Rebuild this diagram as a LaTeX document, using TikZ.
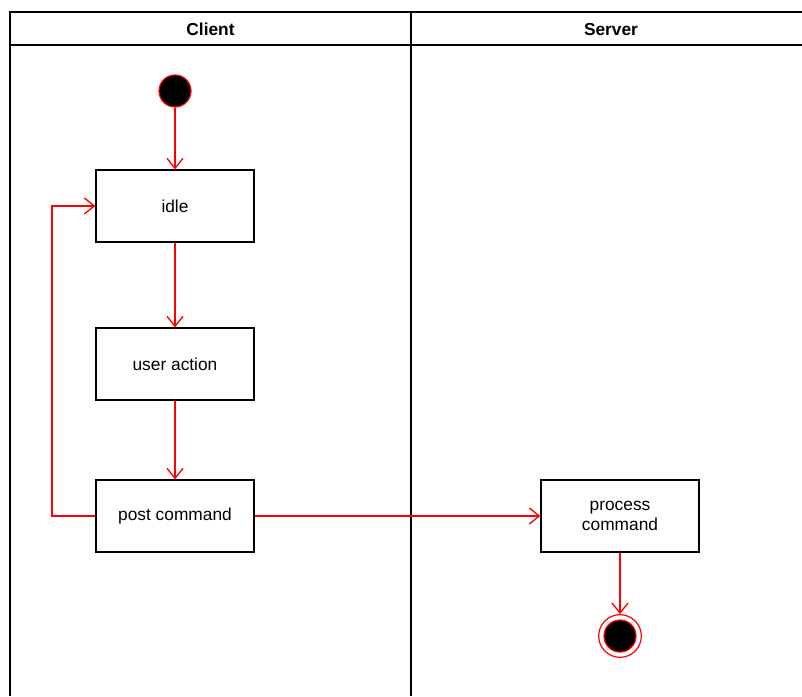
\documentclass[tikz,border=0pt]{standalone}
\usepackage{fontspec}
\setmainfont{Liberation Sans}
\usetikzlibrary{positioning,arrows.meta}

\begin{document}
\begin{tikzpicture}[x=0.75pt,y=-0.75pt,
  action/.style={draw=black,line width=0.9pt,fill=white,minimum width=118.5pt,minimum height=54pt,align=center,font=\fontsize{13pt}{15pt}\selectfont,inner sep=0pt},
  flow/.style={draw=red,line width=1pt,-{Straight Barb[length=7.5pt,width=12pt,line width=1pt]}},
  lane/.style={draw=black,line width=1.1pt},
  lanetitle/.style={font=\bfseries\fontsize{13pt}{15pt}\selectfont,anchor=base}]
\useasboundingbox (0,0) rectangle (802,696);
% swimlanes
\draw[lane] (802,12) -- (10,12) -- (10,696);
\draw[lane] (10,45) -- (802,45);
\draw[lane] (411,12) -- (411,696);
\node[lanetitle] (client) at (210.5,35) {Client};
\node[lanetitle] (server) at (611,35) {Server};
% states
\node[circle,draw=red,fill=black,line width=0.9pt,minimum size=24pt,inner sep=0pt] (start) at (175,91) {};
\node[action] (idle) at (175,206) {idle};
\node[action] (user) at (175,364) {user action};
\node[action] (post) at (175,516) {post command};
\node[action] (proc) at (620,516) {process\\command};
\node[circle,draw=red,fill=white,line width=0.9pt,minimum size=32pt,inner sep=0pt] (final) at (620,636) {};
\node[circle,draw=red,fill=black,line width=0.9pt,minimum size=24pt,inner sep=0pt] (finalin) at (620,636) {};
\coordinate (loop) at (52,0);
% transitions
\draw[flow] (start) -- (idle);
\draw[flow] (idle) -- (user);
\draw[flow] (user) -- (post);
\draw[flow] (post) -- (proc);
\draw[flow] (post.west) -- (post.west -| loop) -- (idle.west -| loop) -- (idle.west);
\draw[flow] (proc) -- (final);
\end{tikzpicture}
\end{document}
